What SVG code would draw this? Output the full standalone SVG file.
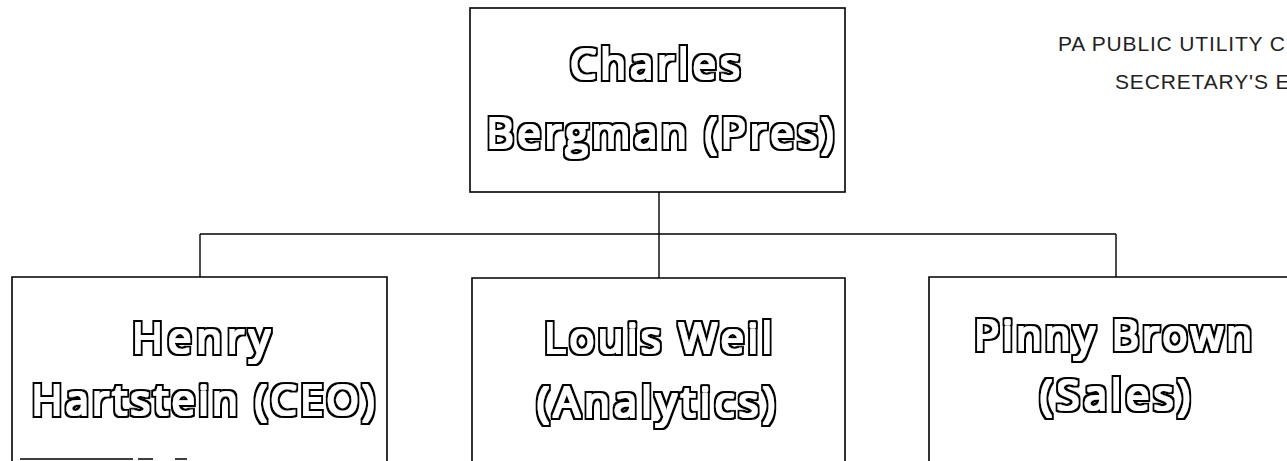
<svg xmlns="http://www.w3.org/2000/svg" width="1287" height="461" viewBox="0 0 1287 461">
<style>
.box{fill:none;stroke:#000;stroke-width:1.6}
.conn{fill:none;stroke:#000;stroke-width:1.4}
.name{font-family:"Open Sans","Liberation Sans",sans-serif;font-size:42px;fill:#000;text-anchor:middle;filter:url(#outline)}
.hdr{font-family:"Liberation Sans",Arial,sans-serif;font-size:21px;fill:#222;letter-spacing:0.85px}
</style>
<defs>
<filter id="outline" x="-10%" y="-30%" width="120%" height="160%">
<feMorphology in="SourceAlpha" operator="dilate" radius="2.6" result="d1"/>
<feFlood flood-color="#000" result="f1"/>
<feComposite in="f1" in2="d1" operator="in" result="blk"/>
<feMorphology in="SourceAlpha" operator="dilate" radius="1" result="d2"/>
<feFlood flood-color="#fff" result="f2"/>
<feComposite in="f2" in2="d2" operator="in" result="wht"/>
<feMerge><feMergeNode in="blk"/><feMergeNode in="wht"/></feMerge>
</filter>
</defs>
<rect width="1287" height="461" fill="#fff"/>
<g id="header">
<text class="hdr" x="1058" y="51">PA PUBLIC UTILITY C</text>
<text class="hdr" x="1115" y="89">SECRETARY'S E</text>
</g>
<g id="connectors">
<path class="conn" d="M659 192 V234"/>
<path class="conn" d="M200 234 H1116"/>
<path class="conn" d="M200 234 V277"/>
<path class="conn" d="M659 234 V278"/>
<path class="conn" d="M1116 234 V277"/>
</g>
<g id="node-charles">
<rect class="box" x="470" y="8" width="375" height="184"/>
<text class="name" x="655" y="79" textLength="170" lengthAdjust="spacing">Charles</text>
<text class="name" x="660" y="148" textLength="347" lengthAdjust="spacing">Bergman (Pres)</text>
</g>
<g id="node-henry">
<path class="box" d="M12 461 V277 H387 V461"/>
<path class="box" d="M20 459 H133 M138 459 H153 M175 459 H187"/>
<text class="name" x="201" y="353" textLength="138" lengthAdjust="spacing">Henry</text>
<text class="name" x="203" y="415" textLength="343" lengthAdjust="spacing">Hartstein (CEO)</text>
</g>
<g id="node-louis">
<path class="box" d="M472 461 V278 H845 V461"/>
<text class="name" x="658" y="353" textLength="228" lengthAdjust="spacing">Louis Weil</text>
<text class="name" x="656" y="417" textLength="238" lengthAdjust="spacing">(Analytics)</text>
</g>
<g id="node-pinny">
<path class="box" d="M929 461 V277 H1287"/>
<text class="name" x="1113" y="350" textLength="278" lengthAdjust="spacing">Pinny Brown</text>
<text class="name" x="1115" y="410" textLength="150" lengthAdjust="spacing">(Sales)</text>
</g>
</svg>
